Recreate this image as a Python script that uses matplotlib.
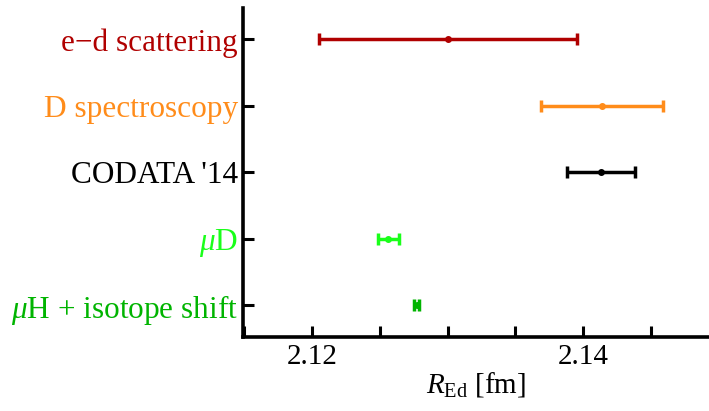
import matplotlib
matplotlib.use("Agg")
import matplotlib.pyplot as plt

plt.rcParams['font.family'] = ['Liberation Serif', 'DejaVu Serif']
plt.rcParams['mathtext.fontset'] = 'custom'
plt.rcParams['mathtext.rm'] = 'Liberation Serif'
plt.rcParams['mathtext.it'] = 'Liberation Serif:italic'

# measurements of the deuteron charge radius (fm)
labels = ["e\u2212d scattering", "D spectroscopy", "CODATA '14",
          "$\\mathit{\u03bc}$D", "$\\mathit{\u03bc}$H + isotope shift"]
values = [2.130, 2.1414, 2.1413, 2.12562, 2.12771]
errors = [0.0095, 0.0045, 0.0025, 0.00078, 0.00022]
colors = ["#b00000", "#ff8c1a", "#000000", "#1aff1a", "#00b400"]
xticks = [2.115, 2.12, 2.125, 2.13, 2.135, 2.14, 2.145]
xticklabels = ["", "2.12", "", "", "", "2.14", ""]

ypos = list(range(len(labels) - 1, -1, -1))

fig = plt.figure(figsize=(7.09, 4.11), dpi=100)
ax = fig.add_axes([0.343, 0.18, 0.657, 0.80])

for y, v, e, c in zip(ypos, values, errors, colors):
    ax.errorbar(v, y, xerr=e, fmt='o', color=c, ms=4, elinewidth=2.5,
                capsize=4, capthick=2.5)

ax.set_xlim(2.11494, 2.14926)
ax.set_ylim(-0.48, 4.47)
ax.set_yticks(ypos)
ax.set_yticklabels(labels, fontsize=22.5)
for lab, c in zip(ax.get_yticklabels(), colors):
    lab.set_color(c)
ax.set_xticks(xticks)
ax.set_xticklabels(xticklabels, fontsize=21)
ax.set_xlabel("$R_{\\mathrm{Ed}}$ [fm]", fontsize=21, labelpad=0)

for s in ['top', 'right']:
    ax.spines[s].set_visible(False)
for s in ['left', 'bottom']:
    ax.spines[s].set_linewidth(2.6)
ax.tick_params(direction='in', length=8, width=2.2)
ax.tick_params(axis='y', pad=4)
ax.tick_params(axis='x', pad=5)

fig.savefig("out.png", dpi=100)
